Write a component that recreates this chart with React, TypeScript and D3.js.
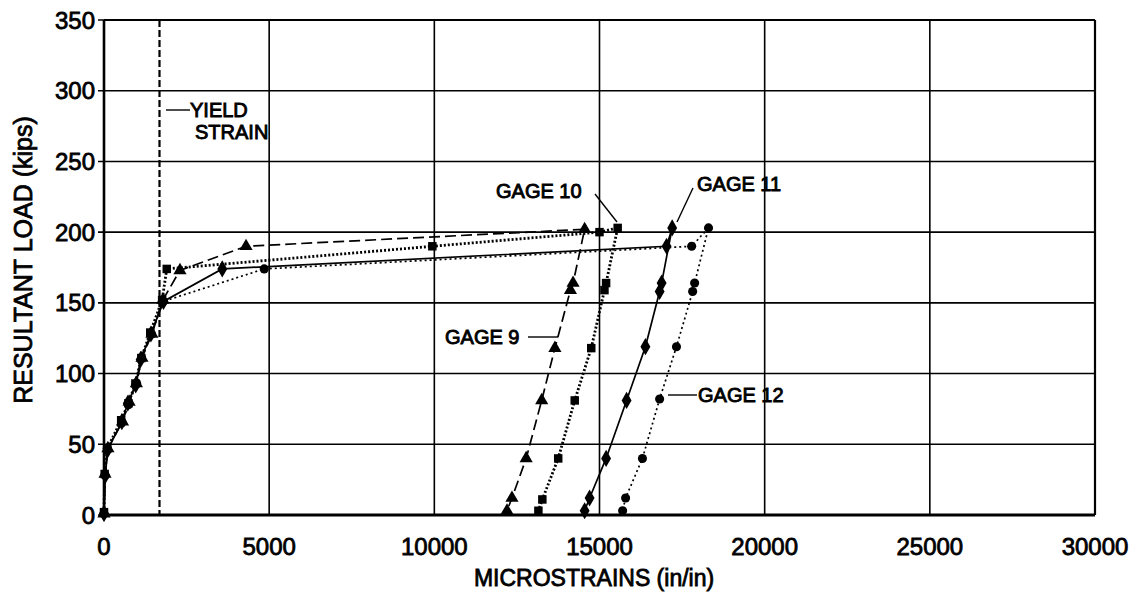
import React from "react";
import * as d3 from "d3";

const xTicks = [0, 5000, 10000, 15000, 20000, 25000, 30000];
const yTicks = [0, 50, 100, 150, 200, 250, 300, 350];
const yieldStrain = 1680;

// [microstrain, load kips]
const gage9: [number, number][] = [
  [0, 1], [30, 29], [120, 47], [560, 66], [760, 80], [980, 93], [1150, 111], [1450, 128], [1780, 152],
  [2300, 173], [4300, 190], [14550, 202], [14200, 164], [14120, 159], [13650, 118], [13250, 81],
  [12780, 40], [12350, 12], [12200, 3],
];
const gage10: [number, number][] = [
  [0, 2], [20, 29], [100, 47], [520, 67], [740, 79], [950, 93], [1130, 111], [1400, 129], [1760, 152],
  [1900, 174], [9940, 190], [15000, 200], [15550, 203], [15200, 164], [15150, 159], [14750, 118],
  [14250, 81], [13750, 40], [13270, 11], [13150, 3],
];
const gage11: [number, number][] = [
  [0, 1], [40, 28], [110, 46], [540, 66], [720, 79], [960, 92], [1110, 110], [1420, 128], [1800, 151],
  [3580, 174], [17030, 190], [17200, 203], [16880, 164], [16820, 158], [16390, 119], [15820, 81],
  [15200, 40], [14700, 12], [14550, 3],
];
const gage12: [number, number][] = [
  [0, 1], [30, 28], [100, 47], [530, 65], [740, 78], [990, 93], [1140, 111], [1440, 128], [1790, 151],
  [4850, 174], [17790, 190], [18300, 203], [17880, 164], [17820, 158], [17330, 119], [16820, 82],
  [16300, 40], [15790, 12], [15700, 3],
];

const W = 1142, H = 592;
const L = 104, R = 1095, T = 20, B = 515;
const FONT = "'Liberation Sans', Arial, sans-serif";

export default function App() {
  const x = d3.scaleLinear().domain([0, 30000]).range([L, R]);
  const y = d3.scaleLinear().domain([0, 350]).range([B, T]);
  const line = d3.line<[number, number]>().x(d => x(d[0])).y(d => y(d[1]));

  const tri = d3.symbol().type(d3.symbolTriangle).size(75)()!;
  const sq = d3.symbol().type(d3.symbolSquare).size(72)()!;
  const dia = d3.symbol().type(d3.symbolDiamond).size(85)()!;
  const circ = d3.symbol().type(d3.symbolCircle).size(65)()!;

  const series = [
    { data: gage9, dash: "11,5", w: 1.7, sym: tri },
    { data: gage10, dash: "2,2", w: 2.8, sym: sq },
    { data: gage11, dash: "", w: 1.7, sym: dia },
    { data: gage12, dash: "2,3", w: 1.7, sym: circ },
  ];

  const tickText = { fontSize: 24, stroke: "#000", strokeWidth: 0.8 };
  const annText = { fontSize: 20, stroke: "#000", strokeWidth: 0.9 };

  return (
    <svg width={W} height={H} style={{ position: "absolute", left: 0, top: 0, background: "#fff" }} fontFamily={FONT}>
      <rect width={W} height={H} fill="#fff" />
      {/* grid */}
      {yTicks.map(t => (
        <line key={"h" + t} x1={L - 6} x2={R} y1={y(t)} y2={y(t)} stroke="#000" strokeWidth={1.6} />
      ))}
      {xTicks.map(t => (
        <line key={"v" + t} x1={x(t)} x2={x(t)} y1={T} y2={B} stroke="#000" strokeWidth={1.6} />
      ))}
      <line x1={L} x2={L} y1={T} y2={B + 1} stroke="#000" strokeWidth={2.6} />
      <line x1={L} x2={R} y1={B} y2={B} stroke="#000" strokeWidth={2.8} />
      <line x1={R} x2={R} y1={T} y2={B} stroke="#000" strokeWidth={2.2} />
      <line x1={L} x2={R} y1={T} y2={T} stroke="#000" strokeWidth={2.2} />

      {/* yield strain */}
      <line x1={x(yieldStrain)} x2={x(yieldStrain)} y1={T} y2={B} stroke="#000" strokeWidth={2.2} strokeDasharray="7,3" />

      {/* series */}
      {series.map((s, i) => (
        <g key={i}>
          <path d={line(s.data)!} fill="none" stroke="#000" strokeWidth={s.w} strokeDasharray={s.dash || undefined} />
          {s.data.map((d, j) => (
            <path key={j} d={s.sym} transform={`translate(${x(d[0])},${y(d[1])})`} fill="#000" />
          ))}
        </g>
      ))}

      {/* tick labels */}
      {yTicks.map(t => (
        <text key={"yl" + t} x={L - 9} y={y(t)} dy="0.36em" textAnchor="end" {...tickText}>{t}</text>
      ))}
      {xTicks.map(t => (
        <text key={"xl" + t} x={x(t)} y={546} dy="0.36em" textAnchor="middle" {...tickText}>{t}</text>
      ))}

      {/* axis titles */}
      <text x={594} y={578} dy="0.36em" textAnchor="middle" fontSize={23} stroke="#000" strokeWidth={0.8}>MICROSTRAINS (in/in)</text>
      <text transform="translate(23,260) rotate(-90)" dy="0.36em" textAnchor="middle" fontSize={25} stroke="#000" strokeWidth={0.8}>RESULTANT LOAD (kips)</text>

      {/* annotations */}
      <line x1={166} x2={190} y1={110} y2={110} stroke="#000" strokeWidth={1.4} />
      <text x={190} y={110} dy="0.36em" {...annText}>YIELD</text>
      <text x={195} y={132} dy="0.36em" {...annText}>STRAIN</text>

      <text x={496} y={191} dy="0.36em" {...annText}>GAGE 10</text>
      <line x1={595} x2={617} y1={194} y2={222} stroke="#000" strokeWidth={1.4} />

      <text x={697} y={184} dy="0.36em" {...annText}>GAGE 11</text>
      <line x1={693} x2={677} y1={188} y2={222} stroke="#000" strokeWidth={1.4} />

      <text x={445} y={337} dy="0.36em" {...annText}>GAGE 9</text>
      <line x1={528} x2={558} y1={337} y2={337} stroke="#000" strokeWidth={1.4} />

      <text x={698} y={395} dy="0.36em" {...annText}>GAGE 12</text>
      <line x1={668} x2={697} y1={395} y2={395} stroke="#000" strokeWidth={1.4} />
    </svg>
  );
}
